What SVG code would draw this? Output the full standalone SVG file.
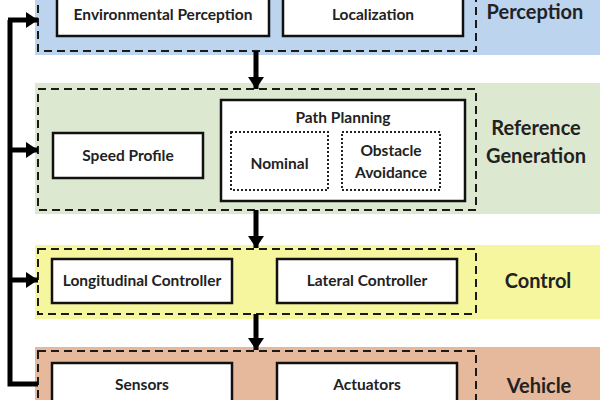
<svg xmlns="http://www.w3.org/2000/svg" width="600" height="400" viewBox="0 0 600 400">
<style>
.band{stroke:none}
.dash{fill:none;stroke:#1a1a1a;stroke-width:2;stroke-dasharray:8 5}
.box{fill:#fff;stroke:#111;stroke-width:2.5}
.dot{fill:#fff;stroke:#222;stroke-width:2;stroke-dasharray:2 2}
.t{font-family:Lato,"Liberation Sans",sans-serif;font-weight:bold;font-size:15.5px;fill:#222;text-anchor:middle;dominant-baseline:central}
.s{font-family:Lato,"Liberation Sans",sans-serif;font-weight:bold;font-size:20px;fill:#222;text-anchor:middle;dominant-baseline:central}
.line{fill:none;stroke:#000;stroke-width:5}
</style>
<defs>
<marker id="ah" viewBox="0 0 10 10" refX="10" refY="5" markerWidth="2.4" markerHeight="3.2" markerUnits="strokeWidth" orient="auto" preserveAspectRatio="none">
<path d="M0,0 L10,5 L0,10 Z" fill="#000"/>
</marker>
</defs>
<rect width="600" height="400" fill="#fff"/>
<g id="perception">
<rect class="band" x="35" y="-5" width="565" height="60" fill="#bdd4ee"/>
<rect class="dash" x="38" y="-10" width="438" height="61"/>
<text class="s" x="535" y="11">Perception</text>
</g>
<g id="env-perception"><rect class="box" x="57" y="-10" width="212" height="46"/><text class="t" x="163" y="14">Environmental Perception</text></g>
<g id="localization"><rect class="box" x="283" y="-10" width="180" height="46"/><text class="t" x="373" y="14">Localization</text></g>

<g id="reference-generation">
<rect class="band" x="35" y="83" width="565" height="131" fill="#dde8d0"/>
<rect class="dash" x="38" y="89" width="438" height="121"/>
<text class="s" x="536" y="127">Reference</text>
<text class="s" x="536" y="155">Generation</text>
</g>
<g id="speed-profile"><rect class="box" x="53" y="133" width="150" height="45"/><text class="t" x="128" y="155">Speed Profile</text></g>
<g id="path-planning"><rect class="box" x="221" y="100" width="244" height="101"/><text class="t" x="343" y="117">Path Planning</text></g>
<g id="nominal"><rect class="dot" x="231" y="132" width="97" height="58"/><text class="t" x="279.5" y="163">Nominal</text></g>
<g id="obstacle-avoidance"><rect class="dot" x="342" y="132" width="98" height="58"/><text class="t" x="391" y="150">Obstacle</text><text class="t" x="391" y="172">Avoidance</text></g>

<g id="control">
<rect class="band" x="35" y="245" width="565" height="74" fill="#f6f69e"/>
<rect class="dash" x="38" y="249" width="438" height="65"/>
<text class="s" x="538" y="280">Control</text>
</g>
<g id="longitudinal"><rect class="box" x="52" y="259" width="180" height="44"/><text class="t" x="142" y="280">Longitudinal Controller</text></g>
<g id="lateral"><rect class="box" x="277" y="259" width="180" height="44"/><text class="t" x="367" y="280">Lateral Controller</text></g>

<g id="vehicle">
<rect class="band" x="35" y="347" width="565" height="60" fill="#e7b99c"/>
<rect class="dash" x="38" y="351" width="438" height="60"/>
<text class="s" x="539" y="385">Vehicle</text>
</g>
<g id="sensors"><rect class="box" x="52" y="363" width="180" height="50"/><text class="t" x="142" y="384">Sensors</text></g>
<g id="actuators"><rect class="box" x="277" y="363" width="180" height="50"/><text class="t" x="367" y="384">Actuators</text></g>

<g id="connectors">
<line class="line" x1="256" y1="51" x2="256" y2="89" marker-end="url(#ah)"/>
<line class="line" x1="256" y1="210" x2="256" y2="248" marker-end="url(#ah)"/>
<line class="line" x1="256" y1="314" x2="256" y2="350" marker-end="url(#ah)"/>
<polyline class="line" points="38,384 10,384 10,20"/>
<line class="line" x1="8" y1="20" x2="38" y2="20" marker-end="url(#ah)"/>
<line class="line" x1="10" y1="150" x2="38" y2="150" marker-end="url(#ah)"/>
<line class="line" x1="10" y1="280" x2="38" y2="280" marker-end="url(#ah)"/>
</g>
</svg>
